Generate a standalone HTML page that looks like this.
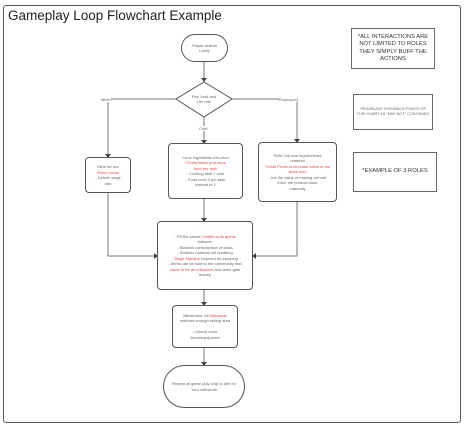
<!DOCTYPE html>
<html><head><style>
body{margin:0;width:468px;height:428px;background:#fff;position:relative;overflow:hidden;font-family:"Liberation Sans",sans-serif}
.f{position:absolute;left:3px;top:5px;width:458px;height:418px;border:1px solid #555;border-radius:3px;box-sizing:border-box}
.t{position:absolute;left:8px;top:8px;font-size:13.5px;color:#222}
.b{position:absolute;border:1px solid #555;border-radius:4px;box-sizing:border-box;font-size:4px;line-height:5.5px;color:#666;text-align:center;display:flex;align-items:center;justify-content:center;background:#fff}
.b>div{width:100%}
.r{color:#e44}
.n{position:absolute;border:1px solid #666;box-sizing:border-box;font-size:5.8px;line-height:7.5px;color:#333;text-align:center;display:flex;align-items:center;justify-content:center;padding:2px}
.l{position:absolute;font-size:4px;color:#666;background:#fff}
</style></head><body>
<div class="f"></div>
<div class="t">Gameplay Loop Flowchart Example</div>
<svg width="468" height="428" style="position:absolute;left:0;top:0">
<g stroke="#777" stroke-width="1" fill="none">
<line x1="204" y1="62" x2="204" y2="80"/>
<polyline points="176,99 108,99 108,155"/>
<polyline points="232,99 297,99 297,140"/>
<line x1="204" y1="117" x2="204" y2="141"/>
<line x1="204" y1="199" x2="204" y2="219"/>
<polyline points="108,193 108,256 155,256"/>
<polyline points="297,202 297,256 255,256"/>
<line x1="204" y1="290" x2="204" y2="303"/>
<line x1="204" y1="348" x2="204" y2="363"/>
<polygon points="204,82 232,99 204,117 176,99" stroke="#555" fill="#fff"/>
</g>
<g fill="#444">
<polygon points="201,78 207,78 204,82"/><polygon points="105,154 111,154 108,158"/>
<polygon points="294,139 300,139 297,143"/><polygon points="201,140 207,140 204,144"/>
<polygon points="201,218 207,218 204,222"/><polygon points="154,253 154,259 158,256"/>
<polygon points="256,253 256,259 252,256"/><polygon points="201,302 207,302 204,306"/>
<polygon points="201,362 207,362 204,366"/>
</g>
</svg>
<div class="b" style="left:181px;top:34px;width:47px;height:28px;border-radius:14px"><div>Player selects<br>Lobby</div></div>
<div class="b" style="left:186px;top:92px;width:36px;height:14px;border:none;background:none"><div>Pick food and<br>Her role</div></div>
<div class="l" style="left:101px;top:97px">Miner</div>
<div class="l" style="left:279px;top:97px">Employee</div>
<div class="l" style="left:199px;top:126px">Chef</div>
<div class="b" style="left:85px;top:157px;width:46px;height:36px"><div>Mine for ore<br><span class="r">*Mine bonus</span><br>- Defeat rouge<br>rats</div></div>
<div class="b" style="left:168px;top:143px;width:75px;height:56px"><div>Cook ingredients into food<br><span class="r">*Chefs faster and more<br>food per task</span><br>- Cooking task + note<br>- Food level 2 per task<br>instead of 1</div></div>
<div class="b" style="left:258px;top:142px;width:79px;height:60px"><div>Sells Ore and Ingot/refined<br>material<br><span class="r">*Small Perks to increase value of ore<br>when sold</span><br>- Ink the value of making ore sell<br>more the product store<br>manually</div></div>
<div class="b" style="left:157px;top:221px;width:96px;height:69px"><div>- Fill the planet <span class="r">Credits to its global</span><br>balance<br>- Stations consumption of tasks<br>- Stations material not breaking<br>- <span class="r">Rage Stamina</span> required for pumping<br>- Items can be sold to the community that<br><span class="r">come to be an milestone</span> and team gets<br>money</div></div>
<div class="b" style="left:172px;top:305px;width:66px;height:43px"><div>Milestones: All <span class="r">Milestone</span><br>reached enough selling area<br><br>- Unlock more<br>items/equipment</div></div>
<div class="b" style="left:163px;top:365px;width:82px;height:43px;border-radius:22px"><div>Repeat all game play loop to aim for<br>Your milestone</div></div>
<div class="n" style="left:351px;top:28px;width:84px;height:41px"><div>*ALL INTERACTIONS ARE NOT LIMITED TO ROLES THEY SIMPLY BUFF THE ACTIONS</div></div>
<div class="n" style="left:353px;top:94px;width:80px;height:36px;font-size:3.8px;line-height:5px;color:#666"><div>*RED/BLACK FEEDBACK POINTS OF<br>THIS CHART AS "MAY NOT" CONTAINED</div></div>
<div class="n" style="left:353px;top:152px;width:84px;height:40px"><div>*EXAMPLE OF 3 ROLES</div></div>
</body></html>
